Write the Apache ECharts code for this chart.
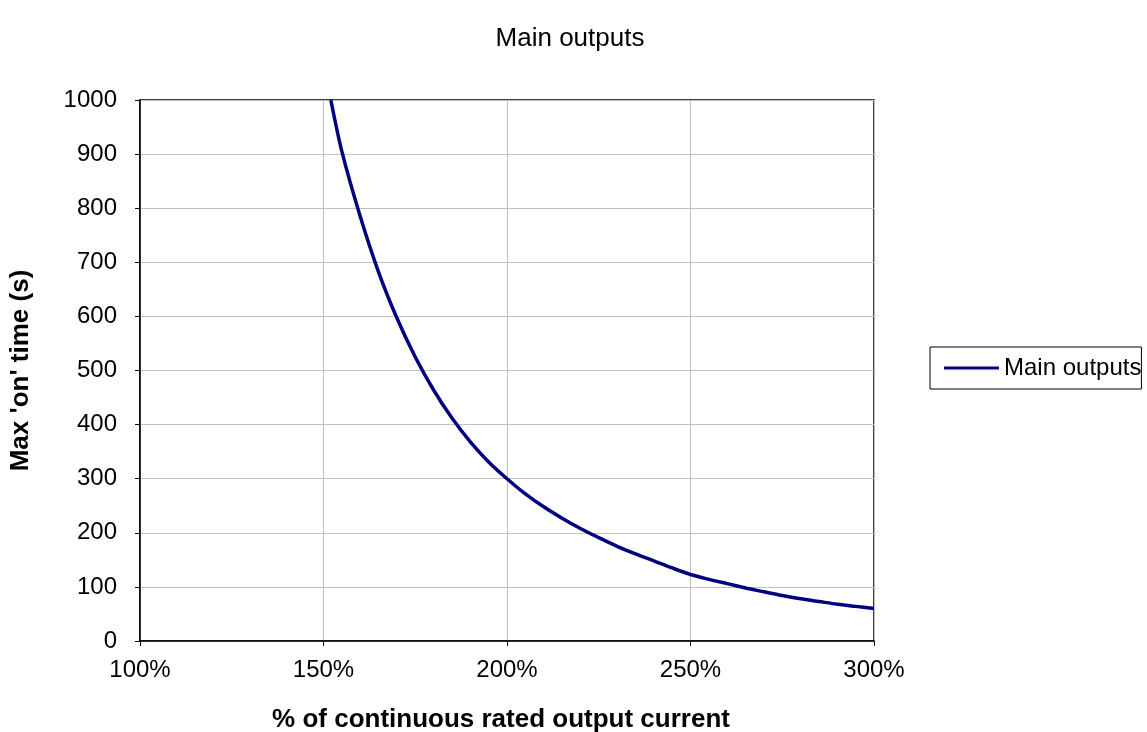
<!DOCTYPE html>
<html>
<head>
<meta charset="utf-8">
<script src="https://cdn.jsdelivr.net/npm/echarts@6/dist/echarts.min.js"></script>
<style>html,body{margin:0;padding:0;background:#fff}#c{width:1147px;height:732px}</style>
</head>
<body>
<div id="c"></div>
<script>
const currentPct = [152,155,160,165,170,175,180,185,190,195,200,205,210,215,220,225,230,235,240,245,250,255,260,265,270,275,280,285,290,295,300];
const onTime = [1000,905,785,682,597,525,464,412,368,331,300,272,248,227,208,191,175,161,148,135,123,114,106,98,91,84,78,73,68,64,60];
const seriesName = 'Main outputs';
const chartTitle = 'Main outputs';
const xName = '% of continuous rated output current';
const yName = "Max 'on' time (s)";

const chart = echarts.init(document.getElementById('c'));
const font = 'Liberation Sans, Arial, sans-serif';
chart.setOption({
  animation: false,
  title: {text: chartTitle, left: 565, top: 21, textAlign: 'center',
    textStyle: {fontFamily: font, fontSize: 26, fontWeight: 'normal', color: '#000'}},
  grid: {left: 140, top: 100, width: 734, height: 541, containLabel: false, outerBoundsMode: 'none',
    show: true, borderColor: '#000', borderWidth: 1.5, backgroundColor: 'transparent'},
  legend: {
    left: 930, top: 347, orient: 'vertical',
    data: [seriesName],
    icon: 'rect',
    borderColor: '#000', borderWidth: 1, padding: [9, 0, 9, 14],
    itemWidth: 55, itemHeight: 3, itemGap: 0,
    textStyle: {fontFamily: font, fontSize: 24, color: '#000', lineHeight: 24}
  },
  xAxis: {
    type: 'value', min: 100, max: 300, interval: 50,
    name: xName, nameLocation: 'middle', nameGap: 66,
    nameTextStyle: {fontFamily: font, fontSize: 26, fontWeight: 'bold', color: '#000', padding: [0, 12, 0, 0]},
    axisLine: {lineStyle: {color: '#000', width: 1.5}},
    axisTick: {show: true, inside: false, length: 5, lineStyle: {color: '#000'}},
    axisLabel: {formatter: '{value}%', fontFamily: font, fontSize: 24, color: '#000', margin: 17},
    splitLine: {show: true, lineStyle: {color: '#c0c0c0', width: 1}}
  },
  yAxis: {
    type: 'value', min: 0, max: 1000, interval: 100,
    name: yName, nameLocation: 'middle', nameGap: 106, nameRotate: 90,
    nameTextStyle: {fontFamily: font, fontSize: 26, fontWeight: 'bold', color: '#000'},
    axisLine: {show: true, lineStyle: {color: '#000', width: 1.5}},
    axisTick: {show: true, inside: false, length: 5, lineStyle: {color: '#000'}},
    axisLabel: {fontFamily: font, fontSize: 24, color: '#000', margin: 23, formatter: (v) => String(v)},
    splitLine: {show: true, lineStyle: {color: '#c0c0c0', width: 1}}
  },
  series: [{
    name: seriesName, type: 'line', smooth: 0.3, symbol: 'none',
    data: currentPct.map((x, i) => [x, onTime[i]]),
    lineStyle: {color: '#000080', width: 3.5},
    itemStyle: {color: '#000080'}
  }]
});
</script>
</body>
</html>
